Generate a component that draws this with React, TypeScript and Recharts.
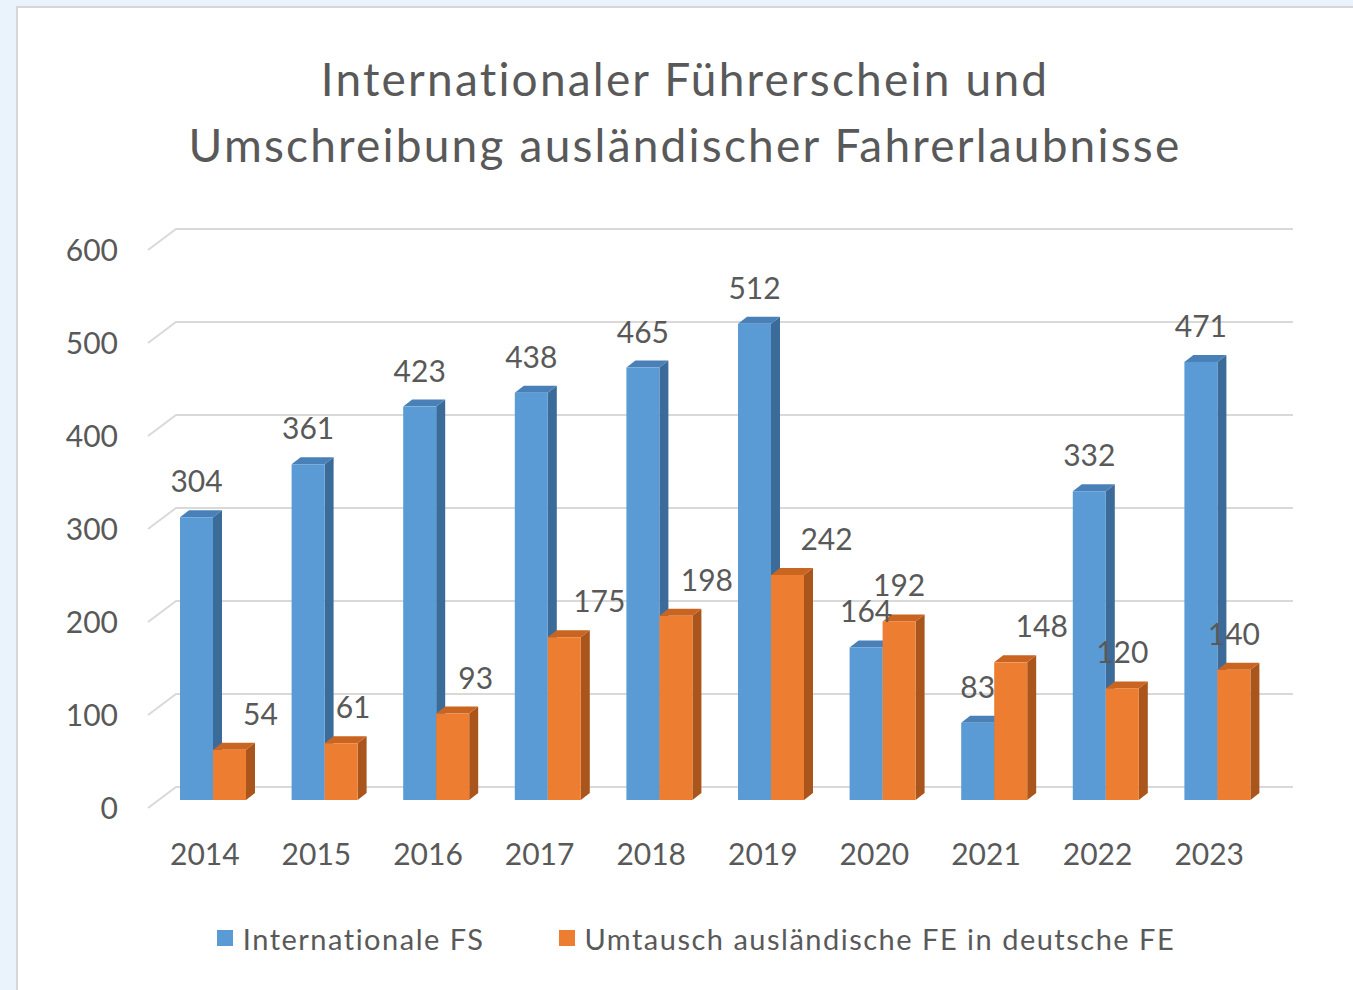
import React from "react";
import { BarChart, Bar, XAxis, YAxis, CartesianGrid, LabelList } from "recharts";

const years = ["2014", "2015", "2016", "2017", "2018", "2019", "2020", "2021", "2022", "2023"];
const internationalFS = [304, 361, 423, 438, 465, 512, 164, 83, 332, 471];
const umtausch = [54, 61, 93, 175, 198, 242, 192, 148, 120, 140];
const yTicks = [0, 100, 200, 300, 400, 500, 600];
const seriesNames = ["Internationale FS", "Umtausch ausländische FE in deutsche FE"];

// horizontal nudges of the orange value labels (as placed in the original)
const orangeLabelShift = [31, 12, 23, 35, 31, 39, 0, 31, 0, 0];

const FONT = "Lato, Carlito, Calibri, sans-serif";
const TEXT = "#595959";
const GRID = "#d9d9d9";
const DX = 9;
const DY = 7;

const BLUE = { front: "#5b9bd5", side: "#3b6b98", top: "#4a80b8" };
const ORANGE = { front: "#ed7d31", side: "#a9551c", top: "#c96520" };

const data = years.map((year, i) => ({ year, intl: internationalFS[i], umt: umtausch[i] }));

function Bar3D(props: any, c: { front: string; side: string; top: string }) {
  const { x, y, width: w, height: h } = props;
  if (h == null || w == null) return null;
  return (
    <g>
      <polygon
        points={`${x + w},${y} ${x + w + DX},${y - DY} ${x + w + DX},${y + h - DY} ${x + w},${y + h}`}
        fill={c.side}
      />
      <polygon points={`${x},${y} ${x + DX},${y - DY} ${x + w + DX},${y - DY} ${x + w},${y}`} fill={c.top} />
      <rect x={x} y={y} width={w} height={h} fill={c.front} />
    </g>
  );
}

function GridLine(props: any) {
  const { x1, x2, y1 } = props;
  return (
    <polyline
      key={props.key ?? `g-${y1}`}
      points={`${x1 - 9},${y1 + 8} ${x1 + 19},${y1 - 13} ${x2 + 20},${y1 - 13}`}
      fill="none"
      stroke={GRID}
      strokeWidth={2}
    />
  );
}

function YTick(props: any) {
  const { x, y, payload } = props;
  return (
    <text x={x} y={y + 7} textAnchor="end" dominantBaseline="central" fill={TEXT} fontSize={30} fontFamily={FONT}>
      {payload.value}
    </text>
  );
}

function XTick(props: any) {
  const { x, y, payload } = props;
  return (
    <text x={x - 8} y={y + 53} textAnchor="middle" dominantBaseline="central" fill={TEXT} fontSize={30} fontFamily={FONT}>
      {payload.value}
    </text>
  );
}

function makeLabel(shift: number[] | null) {
  return (props: any) => {
    const { x, y, width, value, index } = props;
    const dx = shift ? shift[index] ?? 0 : 0;
    return (
      <text
        x={x + width / 2 + dx}
        y={y - 37}
        textAnchor="middle"
        dominantBaseline="central"
        fill={TEXT}
        fontSize={30}
        fontFamily={FONT}
      >
        {value}
      </text>
    );
  };
}

export default function App() {
  return (
    <div style={{ position: "fixed", left: 0, top: 0, width: 1353, height: 990, overflow: "hidden", background: "#eaf2fb" }}>
      <div
        style={{
          position: "absolute",
          left: 16,
          top: 6,
          width: 1400,
          height: 1000,
          background: "#fff",
          border: "2px solid #d6d6d6",
        }}
      />
      <div
        style={{
          position: "absolute",
          left: 85,
          top: 46,
          width: 1200,
          textAlign: "center",
          fontFamily: FONT,
          fontSize: 46,
          letterSpacing: 2.2,
          lineHeight: "66px",
          color: TEXT,
        }}
      >
        Internationaler Führerschein und
        <br />
        Umschreibung ausländischer Fahrerlaubnisse
      </div>
      <div style={{ position: "absolute", left: 0, top: 0 }}>
        <BarChart
          width={1353}
          height={990}
          data={data}
          margin={{ top: 242, right: 80, bottom: 130, left: 0 }}
          barCategoryGap="20%"
          barGap={0}
          barSize={33}
        >
          <CartesianGrid vertical={false} horizontal={GridLine as any} />
          <XAxis dataKey="year" axisLine={false} tickLine={false} tickSize={0} tickMargin={0} height={60} tick={XTick} />
          <YAxis
            domain={[0, 600]}
            ticks={yTicks}
            axisLine={false}
            tickLine={false}
            tickSize={0}
            tickMargin={39}
            width={157}
            tick={YTick}
          />
          <Bar dataKey="intl" name={seriesNames[0]} isAnimationActive={false} shape={(p: any) => Bar3D(p, BLUE)}>
            <LabelList dataKey="intl" content={makeLabel(null)} />
          </Bar>
          <Bar dataKey="umt" name={seriesNames[1]} isAnimationActive={false} shape={(p: any) => Bar3D(p, ORANGE)}>
            <LabelList dataKey="umt" content={makeLabel(orangeLabelShift)} />
          </Bar>
        </BarChart>
      </div>
      <div
        style={{
          position: "absolute",
          left: 0,
          top: 918,
          width: 1392,
          display: "flex",
          justifyContent: "center",
          alignItems: "center",
          fontFamily: FONT,
          fontSize: 29,
          letterSpacing: 1.5,
          color: TEXT,
          height: 40,
        }}
      >
        <span style={{ width: 16, height: 16, background: BLUE.front, marginRight: 10 }} />
        <span style={{ marginRight: 75 }}>{seriesNames[0]}</span>
        <span style={{ width: 16, height: 16, background: ORANGE.front, marginRight: 9 }} />
        <span>{seriesNames[1]}</span>
      </div>
    </div>
  );
}
